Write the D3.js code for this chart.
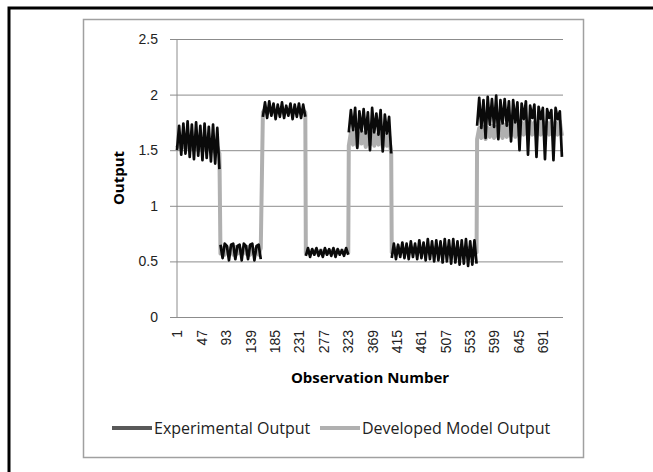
<!DOCTYPE html>
<html>
<head>
<meta charset="utf-8">
<script src="https://cdn.jsdelivr.net/npm/d3@7"></script>
<style>
  body { margin: 0; background: #fff; }
  svg { display: block; font-family: "Open Sans", sans-serif; }
</style>
</head>
<body>
<div id="chart"></div>
<script>
const W = 653, H = 472;

// axis info
const obsCount = 729;
const xTickLabels = [1, 47, 93, 139, 185, 231, 277, 323, 369, 415, 461, 507, 553, 599, 645, 691];
const yTicks = [0, 0.5, 1, 1.5, 2, 2.5];

// each test block starts at this observation, samples every 4 observations
const segmentStarts = [1, 83, 163, 244, 325, 406, 567];
const sampleStep = 4;

// experimental output (low / high swings)
const expA = [1.50, 1.72, 1.46, 1.74, 1.47, 1.76, 1.44, 1.73, 1.42, 1.75, 1.45, 1.72, 1.41, 1.74, 1.43, 1.71, 1.40, 1.73, 1.38, 1.70, 1.33];
const expB = [0.65, 0.53, 0.66, 0.64, 0.51, 0.65, 0.66, 0.52, 0.64, 0.65, 0.51, 0.66, 0.64, 0.52, 0.65, 0.66, 0.51, 0.64, 0.65, 0.52];
const expC = [1.80, 1.93, 1.79, 1.94, 1.81, 1.92, 1.78, 1.91, 1.80, 1.93, 1.79, 1.90, 1.81, 1.92, 1.78, 1.91, 1.80, 1.92, 1.79, 1.91, 1.80];
const expD = [0.55, 0.62, 0.54, 0.61, 0.56, 0.62, 0.55, 0.60, 0.54, 0.62, 0.56, 0.61, 0.55, 0.62, 0.54, 0.61, 0.56, 0.60, 0.55, 0.62, 0.56];
const expE = [1.66, 1.86, 1.68, 1.88, 1.52, 1.85, 1.67, 1.87, 1.65, 1.84, 1.50, 1.88, 1.66, 1.83, 1.64, 1.86, 1.49, 1.82, 1.65, 1.80, 1.47];
const expF = [0.53, 0.66, 0.52, 0.65, 0.54, 0.67, 0.53, 0.66, 0.52, 0.68, 0.54, 0.66, 0.52, 0.69, 0.53, 0.67, 0.51, 0.70, 0.52, 0.68,
              0.50, 0.69, 0.51, 0.68, 0.49, 0.70, 0.50, 0.69, 0.48, 0.70, 0.49, 0.68, 0.47, 0.69, 0.48, 0.70, 0.46, 0.68, 0.47, 0.69, 0.48];
const expG = [1.72, 1.97, 1.70, 1.95, 1.61, 1.98, 1.73, 1.96, 1.71, 1.99, 1.60, 1.95, 1.74, 1.96, 1.72, 1.94, 1.58, 1.95, 1.75, 1.93,
              1.50, 1.92, 1.78, 1.94, 1.46, 1.90, 1.79, 1.91, 1.44, 1.89, 1.78, 1.88, 1.42, 1.87, 1.79, 1.86, 1.41, 1.88, 1.78, 1.85, 1.44];

// developed model output
const modelA = [1.52, 1.56, 1.51, 1.57, 1.52, 1.55, 1.50, 1.56, 1.51, 1.55, 1.50, 1.56, 1.49, 1.55, 1.50, 1.54, 1.49, 1.55, 1.48, 1.53, 1.47];
const modelB = [0.57, 0.62, 0.56, 0.63, 0.57, 0.62, 0.56, 0.63, 0.57, 0.62, 0.56, 0.62, 0.57, 0.63, 0.56, 0.62, 0.57, 0.62, 0.56, 0.62];
const modelC = [1.84, 1.87, 1.83, 1.87, 1.84, 1.86, 1.83, 1.87, 1.84, 1.86, 1.83, 1.87, 1.84, 1.86, 1.83, 1.86, 1.84, 1.87, 1.83, 1.86, 1.84];
const modelD = [0.57, 0.60, 0.57, 0.60, 0.58, 0.60, 0.57, 0.60, 0.58, 0.60, 0.57, 0.60, 0.58, 0.60, 0.57, 0.60, 0.58, 0.60, 0.57, 0.60, 0.58];
const modelE = [1.54, 1.66, 1.55, 1.67, 1.54, 1.65, 1.56, 1.66, 1.53, 1.65, 1.55, 1.66, 1.54, 1.64, 1.55, 1.65, 1.53, 1.64, 1.54, 1.63, 1.47];
const modelF = [0.58, 0.62, 0.58, 0.63, 0.57, 0.62, 0.58, 0.62, 0.57, 0.63, 0.58, 0.62, 0.57, 0.63, 0.58, 0.62, 0.57, 0.63, 0.58, 0.62,
                0.57, 0.63, 0.58, 0.62, 0.57, 0.63, 0.58, 0.62, 0.57, 0.63, 0.58, 0.62, 0.57, 0.63, 0.58, 0.62, 0.57, 0.63, 0.58, 0.62, 0.58];
const modelG = [1.60, 1.70, 1.61, 1.71, 1.60, 1.70, 1.62, 1.72, 1.61, 1.71, 1.62, 1.72, 1.61, 1.73, 1.62, 1.72, 1.63, 1.74, 1.62, 1.75,
                1.63, 1.75, 1.64, 1.76, 1.63, 1.76, 1.64, 1.75, 1.63, 1.76, 1.64, 1.76, 1.63, 1.75, 1.64, 1.76, 1.63, 1.75, 1.64, 1.76, 1.63];

const expSegments = [expA, expB, expC, expD, expE, expF, expG];
const modelSegments = [modelA, modelB, modelC, modelD, modelE, modelF, modelG];

const seriesNames = ['Experimental Output', 'Developed Model Output'];

// build point lists; experimental has a break between blocks
function toPoints(segments, withGaps) {
  let pts = [];
  segments.forEach((vals, s) => {
    vals.forEach((v, k) => pts.push({ obs: segmentStarts[s] + k * sampleStep, v: v }));
    if (withGaps && s < segments.length - 1) pts.push({ obs: null, v: null });
  });
  return pts;
}
const expPoints = toPoints(expSegments, true);
const modelPoints = toPoints(modelSegments, false);

const svg = d3.select('#chart').append('svg')
  .attr('width', W)
  .attr('height', H);

// outer frame and chart area border
svg.append('rect')
  .attr('x', 9).attr('y', 8)
  .attr('width', 700).attr('height', 520)
  .attr('fill', 'none').attr('stroke', '#000').attr('stroke-width', 3);
svg.append('rect')
  .attr('x', 83.5).attr('y', 19.5)
  .attr('width', 500).attr('height', 438)
  .attr('fill', '#fff').attr('stroke', '#a0a0a0').attr('stroke-width', 1.5);

const plot = { left: 177, right: 563, top: 39, bottom: 317 };

const x = d3.scaleLinear().domain([1, obsCount]).range([plot.left, plot.right]);
const y = d3.scaleLinear().domain([0, 2.5]).range([plot.bottom, plot.top]);

// y axis with gridlines
const yAxis = d3.axisLeft(y)
  .tickValues(yTicks)
  .tickFormat(d3.format('~g'))
  .tickSize(-(plot.right - plot.left))
  .tickPadding(19);
const yg = svg.append('g')
  .attr('transform', `translate(${plot.left},0)`)
  .call(yAxis);
yg.select('.domain').remove();
yg.selectAll('.tick line')
  .attr('stroke', '#8c8c8c')
  .attr('x1', -7);
yg.selectAll('.tick text')
  .attr('fill', '#222')
  .style('font-size', '14px');

// vertical axis line
svg.append('line')
  .attr('x1', plot.left).attr('x2', plot.left)
  .attr('y1', plot.top).attr('y2', plot.bottom)
  .attr('stroke', '#8c8c8c');

// x axis labels (rotated)
const xAxis = d3.axisBottom(x)
  .tickValues(xTickLabels)
  .tickSize(0)
  .tickPadding(0);
const xg = svg.append('g')
  .attr('transform', `translate(0,${plot.bottom})`)
  .call(xAxis);
xg.select('.domain').remove();
xg.selectAll('.tick text')
  .attr('fill', '#222')
  .style('font-size', '14px')
  .attr('text-anchor', 'end')
  .attr('dy', '0.35em')
  .attr('transform', 'translate(0,13) rotate(-90)');

// series: model behind, experimental on top
const line = d3.line()
  .defined(d => d.v !== null)
  .x(d => x(d.obs))
  .y(d => y(d.v));

svg.append('path')
  .datum(modelPoints)
  .attr('fill', 'none')
  .attr('stroke', '#b0b0b0')
  .attr('stroke-width', 4)
  .attr('stroke-linejoin', 'round')
  .attr('d', line);

svg.append('path')
  .datum(expPoints)
  .attr('fill', 'none')
  .attr('stroke', '#0a0a0a')
  .attr('stroke-width', 2.7)
  .attr('stroke-linejoin', 'round')
  .attr('d', line);

// axis titles
svg.append('text')
  .attr('x', (plot.left + plot.right) / 2)
  .attr('y', 383)
  .attr('text-anchor', 'middle')
  .style('font-size', '15px')
  .style('font-weight', 'bold')
  .text('Observation Number');

svg.append('text')
  .attr('transform', `translate(124,${(plot.top + plot.bottom) / 2}) rotate(-90)`)
  .attr('text-anchor', 'middle')
  .style('font-size', '15px')
  .style('font-weight', 'bold')
  .text('Output');

// legend
const legendColors = ['#595959', '#b0b0b0'];
const legendX = [112, 320];
seriesNames.forEach((name, i) => {
  const g = svg.append('g').attr('transform', `translate(${legendX[i]},428)`);
  g.append('line')
    .attr('x1', 0).attr('x2', 40)
    .attr('stroke', legendColors[i])
    .attr('stroke-width', 4);
  g.append('text')
    .attr('x', 42)
    .attr('dy', '0.35em')
    .style('font-size', '16px')
    .attr('fill', '#222')
    .text(name);
});
</script>
</body>
</html>
